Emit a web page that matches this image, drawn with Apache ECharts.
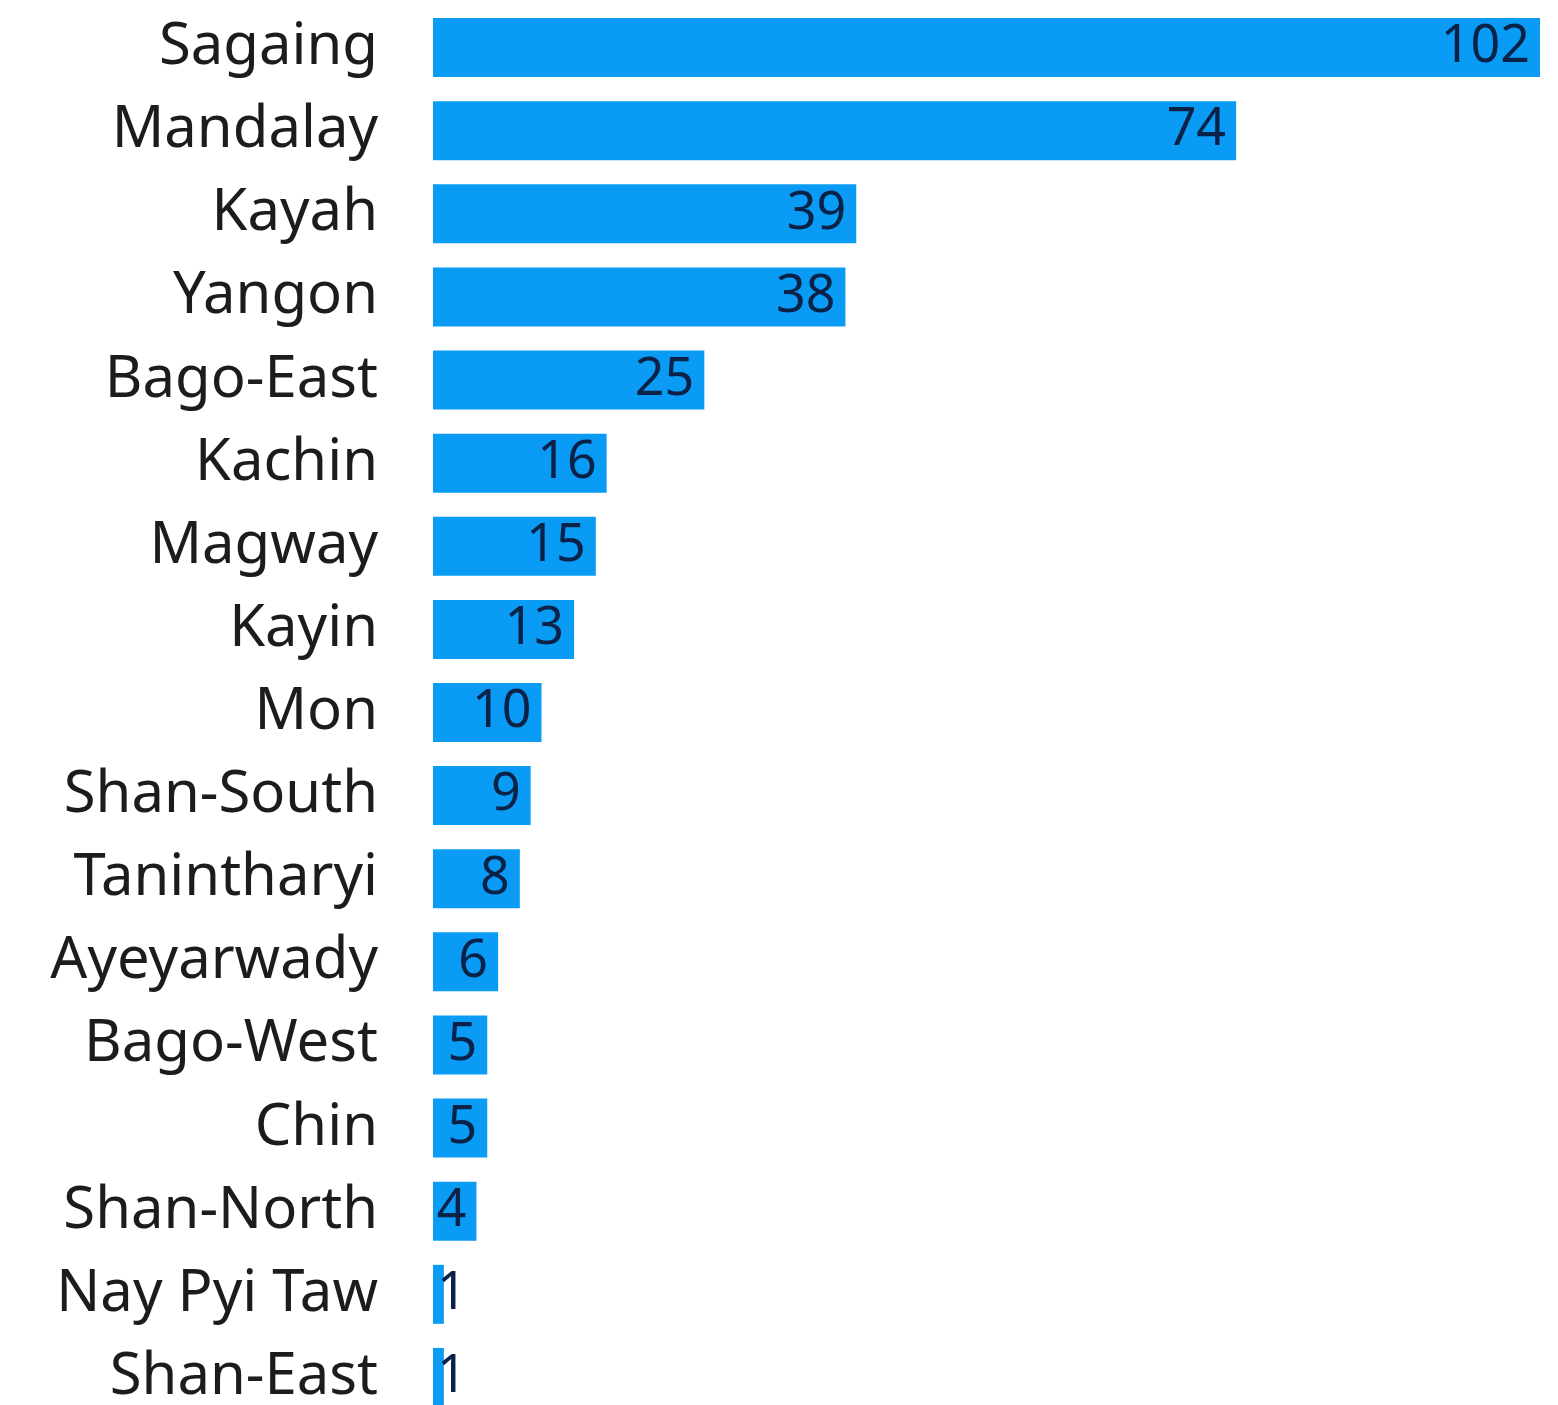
<!DOCTYPE html>
<html><head><meta charset="utf-8">
<script src="https://cdn.jsdelivr.net/npm/echarts@6/dist/echarts.min.js"></script>
<style>html,body{margin:0;padding:0;background:#fff;overflow:hidden}#c{width:1558px;height:1426px}</style>
</head><body><div id="c"></div>
<script>
const categories = ["Sagaing","Mandalay","Kayah","Yangon","Bago-East","Kachin","Magway","Kayin","Mon","Shan-South","Tanintharyi","Ayeyarwady","Bago-West","Chin","Shan-North","Nay Pyi Taw","Shan-East"];
const values = [102,74,39,38,25,16,15,13,10,9,8,6,5,5,4,1,1];

const chart = echarts.init(document.getElementById('c'));
const FONT = '"Noto Sans", sans-serif';
chart.setOption({
  animation: false,
  backgroundColor: '#ffffff',
  grid: {left: 433, right: 18, top: 6, height: 1413},
  xAxis: {type: 'value', min: 0, max: 102, show: false},
  yAxis: {
    type: 'category', data: categories, inverse: true,
    axisLine: {show: false}, axisTick: {show: false},
    axisLabel: {color: '#1c1c1c', fontSize: 58, fontFamily: FONT, margin: 55}
  },
  series: [{
    type: 'bar',
    data: values.map(v => v < 3 ? {value: v, label: {position: 'insideLeft', distance: 4}} : v),
    barCategoryGap: '29%',
    itemStyle: {color: '#0a9bf5'},
    label: {show: true, position: 'insideRight', distance: 10, color: '#0b2248', fontSize: 52, fontFamily: FONT}
  }]
});
</script></body></html>
